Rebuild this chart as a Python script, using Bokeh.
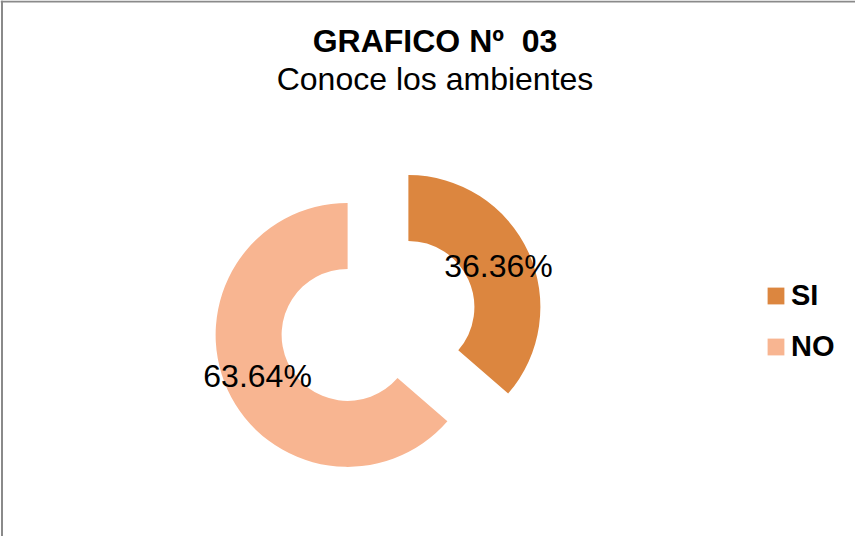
import numpy as np
from bokeh.plotting import figure
from bokeh.models import ColumnDataSource, Span, Label, Legend, LegendItem, Range1d
from bokeh.embed import file_html
from bokeh.resources import INLINE
from bokeh.core.properties import value

# ---- data ----
categories = ["SI", "NO"]
values = [36.36, 63.64]
pct_labels = ["36.36%", "63.64%"]
colors = ["#DC863F", "#F8B591"]
title_text = "GRAFICO Nº\u00a0 03"
subtitle_text = "Conoce los ambientes"

# ---- layout (pixels) ----
W, H = 855, 536
CX, CY = 377.5, 215.5          # centre of the un-exploded donut
R_OUT, R_IN = 132, 66
EXPLODE = 33.4
FONT = "Liberation Sans"

frac = np.array(values) / np.sum(values)
cum = np.concatenate([[0.0], np.cumsum(frac)])
start = np.pi / 2 - 2 * np.pi * cum[:-1]
end = np.pi / 2 - 2 * np.pi * cum[1:]
mid = (start + end) / 2
cx = CX + EXPLODE * np.cos(mid)
cy = CY + EXPLODE * np.sin(mid)
r_mid = (R_IN + R_OUT) / 2
lx = cx + r_mid * np.cos(mid)
ly = cy + r_mid * np.sin(mid)

src = ColumnDataSource(dict(cat=categories, val=values, lab=pct_labels, color=colors,
                            start=start, end=end, cx=cx, cy=cy, lx=lx, ly=ly))

p = figure(width=W, height=H, output_backend="svg", toolbar_location=None,
           x_range=Range1d(0, W), y_range=Range1d(0, H),
           x_axis_location=None, y_axis_location=None,
           min_border=0, min_border_left=0, min_border_right=0,
           min_border_top=0, min_border_bottom=0,
           outline_line_color=None, background_fill_color="white",
           border_fill_color="white")
p.grid.visible = False

r = p.annular_wedge(x="cx", y="cy", inner_radius=R_IN, outer_radius=R_OUT,
                    start_angle="start", end_angle="end", direction="clock",
                    fill_color="color", line_color=None, source=src)

p.text(x="lx", y="ly", text="lab", source=src, text_align="center",
       text_baseline="middle", text_font=value(FONT), text_font_size="32px",
       text_color="black")

# chart border (left + top only visible in the reference)
p.add_layout(Span(location=1.5, dimension="height", line_color="#8a8a8a", line_width=2))
p.add_layout(Span(location=H - 1, dimension="width", line_color="#8a8a8a", line_width=2))

# titles
p.add_layout(Label(x=434.5, y=495.5, x_units="screen", y_units="screen", text=title_text,
                   text_align="center", text_baseline="alphabetic", text_font=FONT,
                   text_font_style="bold", text_font_size="32px", text_color="black"))
p.add_layout(Label(x=434.5, y=458, x_units="screen", y_units="screen", text=subtitle_text,
                   text_align="center", text_baseline="alphabetic", text_font=FONT,
                   text_font_size="32px", text_color="black"))

items = [LegendItem(label=c, renderers=[r], index=i) for i, c in enumerate(categories)]
legend = Legend(items=items, location=(765, 173), orientation="vertical",
                label_text_font=FONT, label_text_font_style="bold",
                label_text_font_size="29px", label_text_color="black",
                glyph_width=21, glyph_height=21,
                spacing=18, padding=0, margin=0, border_line_color=None,
                background_fill_alpha=0, label_standoff=5)
p.add_layout(legend)

open("out.html", "w").write(file_html(p, INLINE))
